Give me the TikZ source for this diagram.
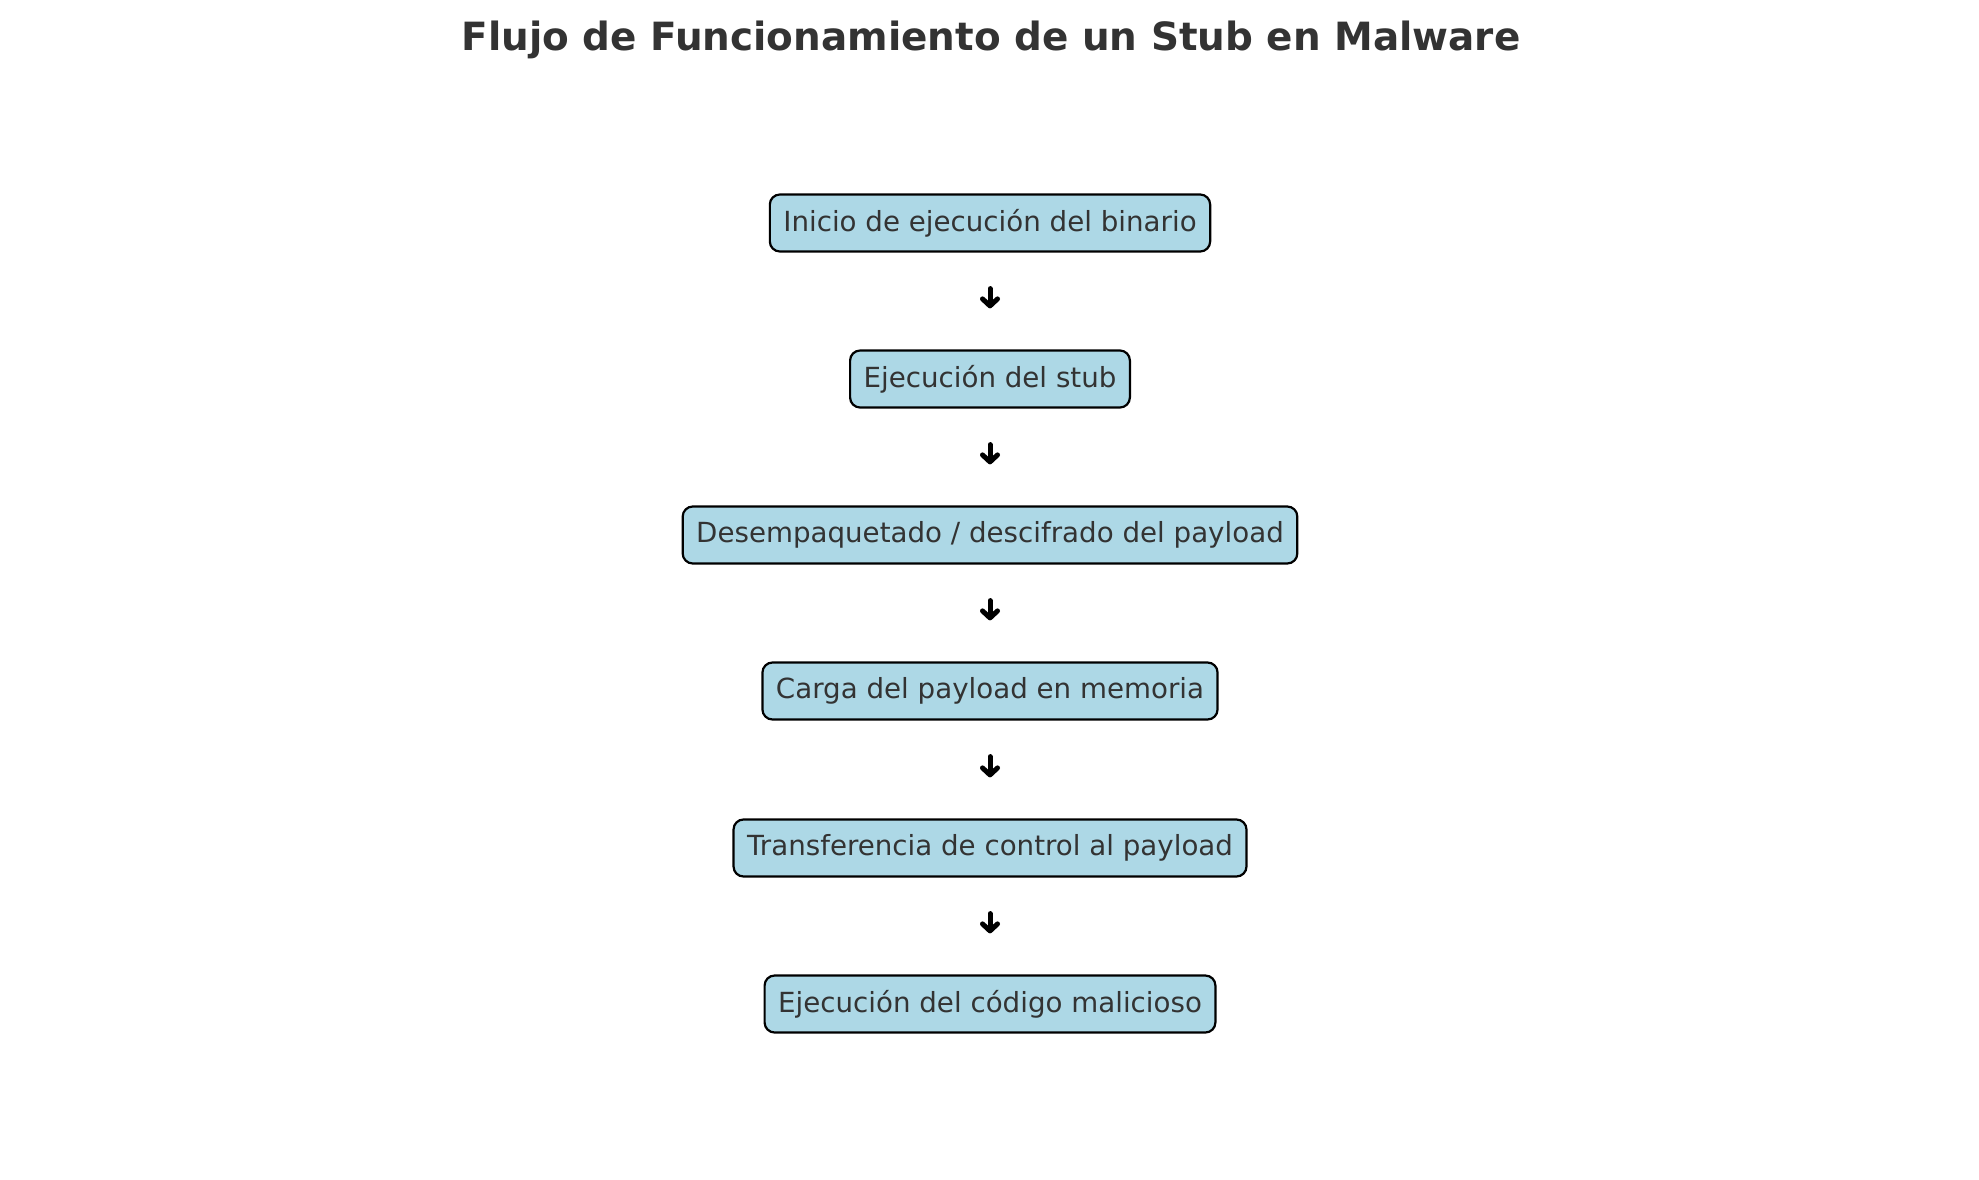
\documentclass[tikz,border=0pt]{standalone}
\usepackage{fontspec}
\setmainfont{DejaVu Sans}
\usetikzlibrary{arrows.meta}
\definecolor{boxfill}{HTML}{ADD8E6}
\definecolor{txt}{HTML}{333333}
\tikzset{
  stepbox/.style={draw=black, line width=2.2pt, fill=boxfill, rounded corners=10pt,
    text=txt, minimum height=57pt, inner xsep=13.5pt, inner ysep=0pt,
    font=\fontsize{27.7}{33}\selectfont, anchor=center},
  flowarrow/.style={draw=black, line width=5pt, line cap=round,
    -{Straight Barb[length=7pt,width=15pt,line width=5pt,round]},
    shorten <=36pt, shorten >=41pt},
  titletext/.style={text=txt, font=\fontsize{38.9}{46}\selectfont\bfseries}
}
\begin{document}
\begin{tikzpicture}[x=1pt,y=-1pt]
\useasboundingbox (0,0) rectangle (1979,1180);
\node[titletext] (title) at (991,40) {Flujo de Funcionamiento de un Stub en Malware};
\node[stepbox] (b1) at (990,223) {Inicio de ejecución del binario};
\node[stepbox] (b2) at (990,379) {Ejecución del stub};
\node[stepbox] (b3) at (990,535) {Desempaquetado / descifrado del payload};
\node[stepbox] (b4) at (990,691) {Carga del payload en memoria};
\node[stepbox] (b5) at (990,848) {Transferencia de control al payload};
\node[stepbox] (b6) at (990,1004) {Ejecución del código malicioso};
\draw[flowarrow] (b1) -- (b2);
\draw[flowarrow] (b2) -- (b3);
\draw[flowarrow] (b3) -- (b4);
\draw[flowarrow] (b4) -- (b5);
\draw[flowarrow] (b5) -- (b6);
\end{tikzpicture}
\end{document}
